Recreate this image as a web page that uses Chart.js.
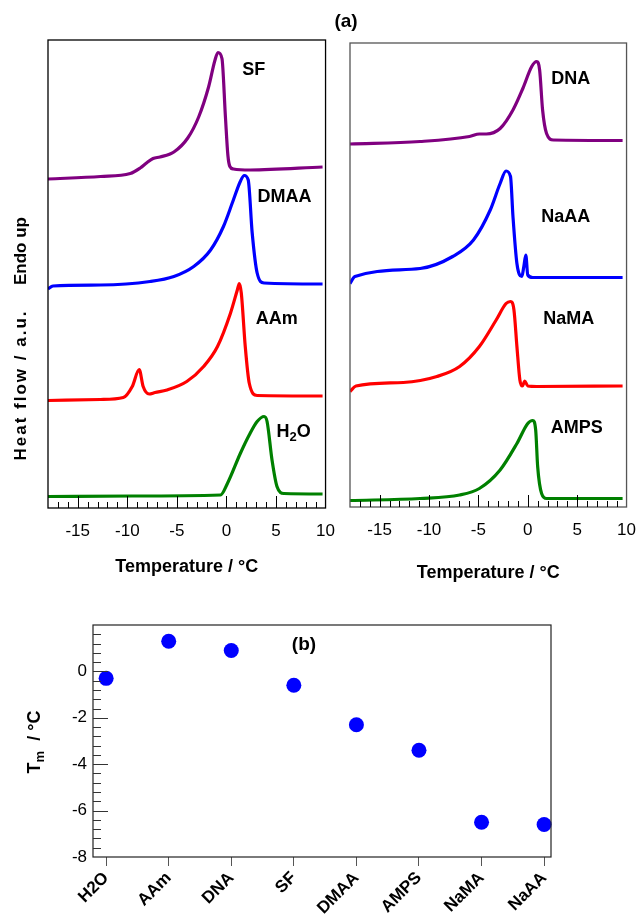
<!DOCTYPE html>
<html>
<head>
<meta charset="utf-8">
<script src="https://cdn.jsdelivr.net/npm/chart.js@4.4.1/dist/chart.umd.min.js"></script>
<style>
  body { margin: 0; background: #fff; }
  #page { position: relative; width: 640px; height: 920px; overflow: hidden; }
  canvas { position: absolute; }
</style>
</head>
<body>
<div id="page">
  <canvas id="leftDsc" width="348" height="600" style="left:0;top:0"></canvas>
  <canvas id="rightDsc" width="339" height="600" style="left:310px;top:0"></canvas>
  <canvas id="tmChart" width="640" height="320" style="left:0;top:600px"></canvas>
</div>
<script>
// DSC traces: [temperature °C, heat flow a.u. (offset stacked)]
const sfCurve = [[-18,65.8],[-12.7,66.3],[-9.7,66.9],[-8.7,68.0],[-8.0,69.1],[-7.4,69.9],[-6.7,70.2],[-5.3,71.2],[-3.9,74.0],[-2.8,78.2],[-1.8,84.2],[-1.15,89.6],[-0.85,91.1],[-0.45,89.9],[-0.1,78.2],[0.15,70.5],[0.35,68.3],[0.7,67.8],[2.4,67.6],[9.7,68.2]];
const dmaaCurve = [[-18,43.8],[-17.5,44.4],[-12.7,44.6],[-7.7,45.3],[-5.3,46.3],[-3.3,48.3],[-1.6,51.6],[-0.3,56.3],[0.7,61.6],[1.4,65.3],[1.8,66.5],[2.2,65.6],[2.6,55.0],[3.1,47.0],[3.8,45.0],[9.7,44.8]];
const aamCurve = [[-18,21.5],[-12.7,21.7],[-10.4,22.1],[-9.5,24.3],[-8.8,27.7],[-8.4,24.3],[-7.8,22.8],[-7.2,23.1],[-6.0,23.6],[-4.0,25.3],[-2.3,28.3],[-0.9,32.3],[0.4,38.9],[1.1,43.6],[1.3,44.9],[1.5,43.0],[1.9,32.3],[2.3,25.0],[3.1,22.5],[9.7,22.4]];
const h2oCurve = [[-18,2.3],[-9.5,2.4],[-0.6,2.6],[0.1,4.9],[1.4,10.9],[2.3,14.6],[3.1,17.3],[3.8,18.3],[4.1,17.3],[4.6,9.6],[5.1,4.3],[5.8,2.9],[9.7,2.8]];

const dnaCurve = [[-18,72.6],[-10.9,73.1],[-5.9,74.1],[-4.9,74.6],[-4.2,74.6],[-2.8,75.7],[-1.5,79.4],[-0.5,83.7],[0.4,88.1],[0.9,89.1],[1.2,87.4],[1.5,79.4],[1.9,74.7],[2.6,73.4],[9.6,73.3]];
const naaaCurve = [[-18,44.7],[-17.5,46.1],[-10.9,47.7],[-7.6,50.1],[-5.5,53.4],[-3.8,59.4],[-2.8,64.7],[-2.2,67.2],[-1.75,66.1],[-1.5,58.1],[-1.1,48.7],[-0.6,46.1],[-0.4,48.1],[-0.2,50.4],[0,46.4],[0.5,45.9],[9.6,45.9]];
const namaCurve = [[-18,23.1],[-17.4,24.2],[-12.6,24.9],[-9.2,26.1],[-6.9,28.1],[-4.9,32.1],[-3.2,37.4],[-2.2,40.7],[-1.75,41.1],[-1.4,39.4],[-1.1,32.1],[-0.8,25.4],[-0.55,24.2],[-0.3,25.2],[0,24.2],[0.9,24.1],[9.6,24.2]];
const ampsCurve = [[-18,1.3],[-10.9,1.7],[-6.9,2.4],[-4.9,3.7],[-2.8,7.4],[-1.1,12.7],[0,16.7],[0.5,17.3],[0.8,15.4],[1.0,8.1],[1.4,2.7],[1.9,1.7],[9.6,1.7]];

const tempTicks = [-15, -10, -5, 0, 5, 10];

// (b) melting temperatures
const samples = ['H2O', 'AAm', 'DNA', 'SF', 'DMAA', 'AMPS', 'NaMA', 'NaAA'];
const meltTemps = [-0.3, 1.3, 0.9, -0.6, -2.3, -3.4, -6.5, -6.6];
const tmTicks = [-8, -6, -4, -2, 0];

const FONT = "'Liberation Sans', Arial, Helvetica, sans-serif";
Chart.defaults.font.family = FONT;
Chart.defaults.color = '#000';

const PURPLE = '#800080', BLUE = '#0000ff', RED = '#ff0000', GREEN = '#008000';

// draws text made of pieces (for subscripts), centred on x
function richText(ctx, parts, x, y, rot, spacing) {
  ctx.save();
  ctx.translate(x, y);
  if (rot) ctx.rotate(rot);
  ctx.textBaseline = 'middle';
  ctx.textAlign = 'left';
  if (spacing) ctx.letterSpacing = spacing + 'px';
  let w = 0;
  parts.forEach(p => { ctx.font = p.font; w += ctx.measureText(p.t).width; });
  let cx = -w / 2;
  parts.forEach(p => {
    ctx.font = p.font;
    ctx.fillText(p.t, cx, p.dy || 0);
    cx += ctx.measureText(p.t).width;
  });
  ctx.restore();
}
const B18 = 'bold 18px ' + FONT;
const B17 = 'bold 17px ' + FONT;
const B13 = 'bold 13px ' + FONT;
const plain = s => [{ t: s, font: B18 }];

function dscPanel(id, curves, labels, cfg) {
  const decor = {
    id: 'decor',
    afterDraw(chart) {
      const { ctx, chartArea: a, scales: { x, y } } = chart;
      ctx.save();
      ctx.strokeStyle = cfg.frame;
      ctx.lineWidth = 1.3;
      ctx.strokeRect(a.left, a.top, a.right - a.left, a.bottom - a.top);
      ctx.strokeStyle = '#000';
      ctx.lineWidth = 1;
      for (let t = -17; t < 10; t++) {
        const px = Math.round(x.getPixelForValue(t)) + 0.5;
        const len = t % 5 === 0 ? 12 : 6;
        ctx.beginPath();
        ctx.moveTo(px, a.bottom);
        ctx.lineTo(px, a.bottom - len);
        ctx.stroke();
      }
      ctx.fillStyle = '#000';
      labels.forEach(l => richText(ctx, l.parts, x.getPixelForValue(l.T), y.getPixelForValue(l.v)));
      richText(ctx, plain('Temperature / °C'), (a.left + a.right) / 2, cfg.titleY);
      if (cfg.extra) cfg.extra(ctx);
      ctx.restore();
    }
  };
  return new Chart(document.getElementById(id), {
    type: 'line',
    data: {
      datasets: curves.map(c => ({
        data: c.pts.map(p => ({ x: p[0], y: p[1] })),
        borderColor: c.color,
        borderWidth: 3.2,
        pointRadius: 0,
        cubicInterpolationMode: 'monotone',
        fill: false
      }))
    },
    options: {
      responsive: false,
      animation: false,
      events: [],
      layout: { padding: cfg.pad },
      plugins: { legend: { display: false }, tooltip: { enabled: false } },
      scales: {
        x: {
          type: 'linear', min: -18, max: 10,
          afterBuildTicks: sc => { sc.ticks = tempTicks.map(v => ({ value: v })); },
          afterFit: sc => { sc.height = cfg.axisH; },
          grid: { display: false, drawTicks: false },
          border: { display: false },
          ticks: { padding: 13, font: { size: 17 }, callback: v => String(v) }
        },
        y: { display: false, min: 0, max: cfg.yMax }
      }
    },
    plugins: [decor]
  });
}

dscPanel('leftDsc',
  [{ pts: sfCurve, color: PURPLE }, { pts: dmaaCurve, color: BLUE }, { pts: aamCurve, color: RED }, { pts: h2oCurve, color: GREEN }],
  [
    { parts: plain('SF'), T: 2.75, v: 87.6 },
    { parts: plain('DMAA'), T: 5.87, v: 62.2 },
    { parts: plain('AAm'), T: 5.07, v: 37.8 },
    { parts: [{ t: 'H', font: B18 }, { t: '2', font: B13, dy: 5 }, { t: 'O', font: B18 }], T: 6.78, v: 15.2 }
  ],
  {
    pad: { left: 48, top: 40, right: 0, bottom: 0 }, axisH: 92, yMax: 93.6, frame: '#000', titleY: 567,
    extra: ctx => {
      richText(ctx, [{ t: 'Heat flow / a.u.', font: B17 }], 21, 385, -Math.PI / 2, 2);
      richText(ctx, [{ t: 'Endo up', font: B17 }], 21, 251, -Math.PI / 2);
    }
  });

dscPanel('rightDsc',
  [{ pts: dnaCurve, color: PURPLE }, { pts: naaaCurve, color: BLUE }, { pts: namaCurve, color: RED }, { pts: ampsCurve, color: GREEN }],
  [
    { parts: plain('DNA'), T: 4.35, v: 85.6 },
    { parts: plain('NaAA'), T: 3.84, v: 58.0 },
    { parts: plain('NaMA'), T: 4.15, v: 37.6 },
    { parts: plain('AMPS'), T: 4.95, v: 15.8 }
  ],
  {
    pad: { left: 40, top: 43, right: 0, bottom: 0 }, axisH: 93, yMax: 92.8, frame: '#555', titleY: 573,
    extra: ctx => { richText(ctx, [{ t: '(a)', font: 'bold 19px ' + FONT }], 36, 22); }
  });

// (b) panel
const tmDecor = {
  id: 'tmDecor',
  afterDraw(chart) {
    const { ctx, chartArea: a, scales: { y } } = chart;
    ctx.save();
    ctx.strokeStyle = '#222';
    ctx.lineWidth = 1.2;
    ctx.strokeRect(a.left, a.top, a.right - a.left, a.bottom - a.top);
    ctx.strokeStyle = '#333';
    ctx.lineWidth = 1;
    for (let i = 1; i < 25; i++) {
      const v = -8 + i * 0.4;
      const py = Math.round(y.getPixelForValue(v)) + 0.5;
      const major = Math.abs(v / 2 - Math.round(v / 2)) < 1e-6;
      ctx.beginPath();
      ctx.moveTo(a.left, py);
      ctx.lineTo(a.left + (major ? 15 : 8), py);
      ctx.stroke();
    }
    ctx.fillStyle = '#000';
    richText(ctx, [{ t: '(b)', font: 'bold 19px ' + FONT }], 304, 45);
    richText(ctx, [
      { t: 'T', font: B18 }, { t: 'm', font: B13, dy: 5 }, { t: '  / °C', font: B18 }
    ], 35, 142, -Math.PI / 2);
    ctx.restore();
  }
};

new Chart(document.getElementById('tmChart'), {
  type: 'scatter',
  data: {
    datasets: [{
      data: meltTemps.map((v, i) => ({ x: i, y: v })),
      backgroundColor: BLUE,
      borderWidth: 0,
      pointRadius: 7.5,
      clip: false
    }]
  },
  options: {
    responsive: false,
    animation: false,
    events: [],
    layout: { padding: { left: 0, top: 25, right: 89, bottom: 0 } },
    plugins: { legend: { display: false }, tooltip: { enabled: false } },
    scales: {
      x: {
        type: 'linear', min: -0.21, max: 7.11,
        afterBuildTicks: sc => { sc.ticks = samples.map((s, i) => ({ value: i })); },
        afterFit: sc => { sc.height = 63; },
        grid: { drawOnChartArea: false, tickLength: 9, color: '#555' },
        border: { display: false },
        ticks: {
          autoSkip: false, minRotation: 45, maxRotation: 45, padding: 2,
          font: { size: 17, weight: 'bold' },
          callback: v => samples[v]
        }
      },
      y: {
        min: -8, max: 2,
        afterBuildTicks: sc => { sc.ticks = tmTicks.map(v => ({ value: v })); },
        afterFit: sc => { sc.width = 93; },
        grid: { display: false, drawTicks: false },
        border: { display: false },
        ticks: { padding: 6, font: { size: 17 }, callback: v => String(v) }
      }
    }
  },
  plugins: [tmDecor]
});
</script>
</body>
</html>
